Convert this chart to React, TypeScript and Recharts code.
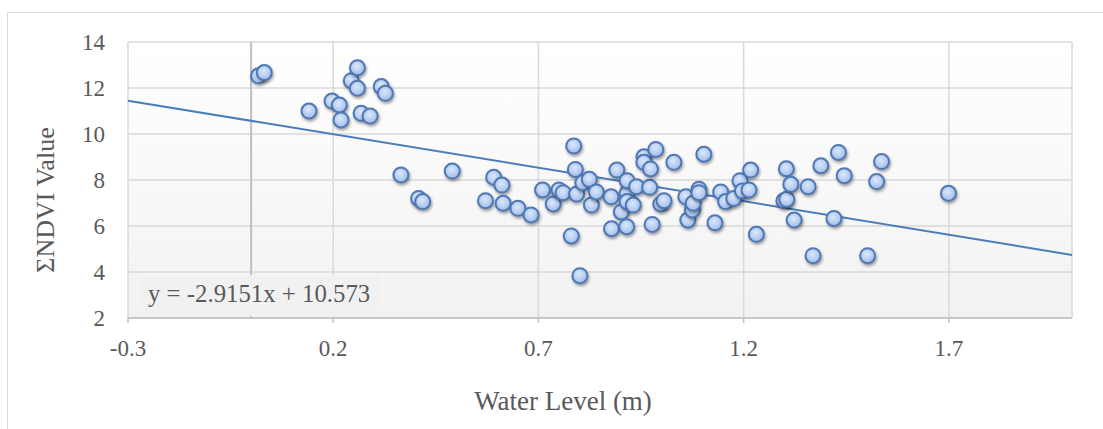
import React from 'react';
import { ScatterChart, Scatter, XAxis, YAxis, CartesianGrid, ReferenceLine } from 'recharts';

const waterLevel = [
  0.018, 0.032, 0.141, 0.197, 0.215, 0.219, 0.244, 0.259, 0.259, 0.268,
  0.29, 0.317, 0.327, 0.365, 0.408, 0.418, 0.49, 0.571, 0.591, 0.611,
  0.614, 0.65, 0.682, 0.71, 0.736, 0.75, 0.76, 0.78, 0.786, 0.79,
  0.793, 0.801, 0.808, 0.824, 0.829, 0.841, 0.877, 0.878, 0.891, 0.902,
  0.915, 0.916, 0.916, 0.916, 0.931, 0.939, 0.957, 0.957, 0.971, 0.973,
  0.977, 0.986, 0.998, 1.006, 1.03, 1.059, 1.064, 1.075, 1.077, 1.091,
  1.091, 1.103, 1.13, 1.144, 1.156, 1.176, 1.191, 1.197, 1.213, 1.217,
  1.231, 1.298, 1.305, 1.304, 1.315, 1.323, 1.357, 1.369, 1.388, 1.42,
  1.431, 1.445, 1.502, 1.524, 1.536, 1.699,
];

const ndviValue = [
  12.53, 12.67, 11.0, 11.43, 11.26, 10.61, 12.32, 12.88, 11.99, 10.9,
  10.78, 12.06, 11.77, 8.22, 7.2, 7.06, 8.39, 7.1, 8.12, 7.78,
  6.99, 6.77, 6.48, 7.57, 6.96, 7.57, 7.45, 5.57, 9.48, 8.46,
  7.39, 3.84, 7.88, 8.03, 6.91, 7.48, 7.27, 5.88, 8.43, 6.61,
  5.97, 7.42, 7.06, 7.97, 6.91, 7.71, 9.01, 8.77, 7.68, 8.48,
  6.07, 9.33, 6.96, 7.1, 8.77, 7.27, 6.26, 6.7, 6.99, 7.6,
  7.45, 9.12, 6.14, 7.48, 7.06, 7.2, 7.97, 7.52, 7.57, 8.43,
  5.64, 7.1, 7.16, 8.49, 7.81, 6.26, 7.71, 4.71, 8.62, 6.33,
  9.2, 8.19, 4.71, 7.93, 8.8, 7.42,
];

const xTicks = [-0.3, 0.2, 0.7, 1.2, 1.7];
const yTicks = [2, 4, 6, 8, 10, 12, 14];
const xDomain: [number, number] = [-0.3, 2.0];
const yDomain: [number, number] = [2, 14];
const trendSlope = -2.9151;
const trendIntercept = 10.573;
const equationText = 'y = -2.9151x + 10.573';
const xTitle = 'Water Level (m)';
const yTitle = 'ΣNDVI Value';

const data = waterLevel.map((x, i) => ({ x, y: ndviValue[i] }));
const trendSegment = xDomain.map((x) => ({ x, y: trendSlope * x + trendIntercept }));

const FONT = '"Liberation Serif", "Times New Roman", serif';
const TEXT = '#595959';

const Marker = (props: any) => {
  const { cx, cy } = props;
  if (cx == null || cy == null) return null;
  return (
    <circle
      cx={cx}
      cy={cy}
      r={7.5}
      fill="url(#markerGrad)"
      stroke="#4f78b6"
      strokeWidth={2}
      style={{ filter: 'drop-shadow(1.5px 2px 1.5px rgba(0,0,0,0.38))' }}
    />
  );
};

export default function App() {
  return (
    <div
      style={{
        position: 'absolute',
        left: 0,
        top: 0,
        width: 1103,
        height: 429,
        overflow: 'hidden',
        background: '#ffffff',
        fontFamily: FONT,
      }}
    >
      <svg width={0} height={0} style={{ position: 'absolute' }}>
        <defs>
          <radialGradient id="markerGrad" cx="45%" cy="40%" r="60%">
            <stop offset="0%" stopColor="#dce8fa" />
            <stop offset="100%" stopColor="#a0bdea" />
          </radialGradient>
        </defs>
      </svg>
      <div
        style={{
          position: 'absolute',
          left: 7,
          top: 12,
          width: 1110,
          height: 430,
          border: '1.5px solid #d9d9d9',
        }}
      />
      <div
        style={{
          position: 'absolute',
          left: 128,
          top: 42,
          width: 944,
          height: 276,
          background: 'linear-gradient(#ffffff, #f2f2f2)',
        }}
      />
      <div style={{ position: 'absolute', left: 0, top: 0 }}>
        <ScatterChart width={1103} height={429} margin={{ top: 42, right: 31, left: 0, bottom: 81 }}>
          <CartesianGrid stroke="#d9d9d9" strokeWidth={1.5} />
          <XAxis
            type="number"
            dataKey="x"
            domain={xDomain}
            ticks={xTicks}
            interval={0}
            allowDataOverflow
            tickFormatter={(v: number) => String(v)}
            tick={{ fill: TEXT, fontSize: 23, fontFamily: FONT }}
            axisLine={{ stroke: '#bfbfbf', strokeWidth: 1.5 }}
            tickLine={{ stroke: '#bfbfbf', strokeWidth: 1.5 }}
            tickSize={5}
            tickMargin={17}
            height={30}
          />
          <YAxis
            type="number"
            dataKey="y"
            domain={yDomain}
            ticks={yTicks}
            interval={0}
            allowDataOverflow
            tick={{ fill: TEXT, fontSize: 23, fontFamily: FONT }}
            axisLine={false}
            tickLine={false}
            tickSize={0}
            tickMargin={23}
            width={128}
          />
          <ReferenceLine x={0} stroke="#bfbfbf" strokeWidth={2} />
          <Scatter data={data} shape={Marker} isAnimationActive={false} />
          <ReferenceLine segment={trendSegment} stroke="#4a7ebb" strokeWidth={2} />
        </ScatterChart>
      </div>
      <div
        style={{
          position: 'absolute',
          left: 141,
          top: 275,
          width: 239,
          height: 41,
          background: '#f1f1f1',
        }}
      >
        <div
          style={{
            position: 'absolute',
            left: 7,
            top: 5,
            fontSize: 24.8,
            lineHeight: '28px',
            color: TEXT,
            whiteSpace: 'nowrap',
          }}
        >
          {equationText}
        </div>
      </div>
      <div
        style={{
          position: 'absolute',
          left: 563,
          top: 401,
          transform: 'translate(-50%, -50%)',
          fontSize: 27,
          color: TEXT,
          whiteSpace: 'nowrap',
        }}
      >
        {xTitle}
      </div>
      <div
        style={{
          position: 'absolute',
          left: 46,
          top: 200,
          transform: 'translate(-50%, -50%) rotate(-90deg)',
          fontSize: 26,
          color: TEXT,
          whiteSpace: 'nowrap',
        }}
      >
        {yTitle}
      </div>
    </div>
  );
}
